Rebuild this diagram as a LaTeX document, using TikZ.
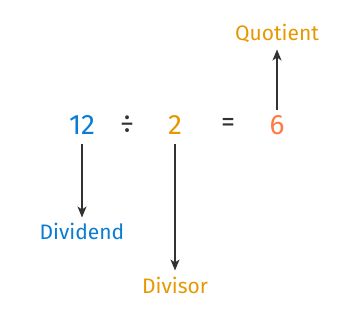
\documentclass[tikz,border=0pt]{standalone}
\usepackage{fontspec}
\setmainfont{Fira Sans}
\usetikzlibrary{arrows.meta}
\definecolor{dividendblue}{RGB}{10,124,212}
\definecolor{divisororange}{RGB}{230,152,0}
\definecolor{quotientcoral}{RGB}{255,122,64}
\definecolor{arrowgray}{RGB}{50,50,50}

\begin{document}
\begin{tikzpicture}[
    x=1pt, y=-1pt,
    term/.style={font=\fontsize{28}{30}\selectfont, inner sep=0pt, anchor=center},
    label/.style={font=\fontsize{21}{24}\selectfont, inner sep=0pt, anchor=center},
    arrow/.style={-{Stealth[length=11pt,width=9pt,inset=3pt]}, line width=1.4pt, arrowgray}
]
\useasboundingbox (0,0) rectangle (358,311);

\node[term, dividendblue] (n12) at (82,125) {12};
\node[term, arrowgray] (dv) at (127,125) {÷};
\node[term, divisororange] (n2) at (175,125) {2};
\node[term, arrowgray] (eq) at (228,125) {=};
\node[term, quotientcoral] (n6) at (277,125) {6};

\node[label, divisororange] (quot) at (277,33) {Quotient};
\node[label, dividendblue] (dvd) at (82,231) {Dividend};
\node[label, divisororange] (dvs) at (175,285) {Divisor};

\draw[arrow, shorten <=9pt, shorten >=5pt] (n12) -- (dvd);
\draw[arrow, shorten <=9pt, shorten >=6pt] (n2) -- (dvs);
\draw[arrow, shorten <=5pt, shorten >=7pt] (n6) -- (quot);

\end{tikzpicture}
\end{document}
